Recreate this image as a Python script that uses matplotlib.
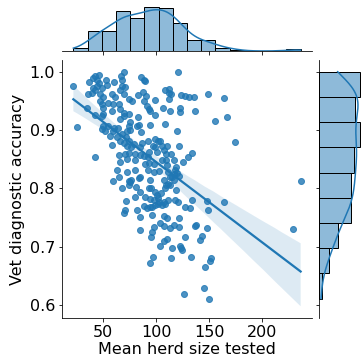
#!/usr/bin/env python3
import numpy as np
import matplotlib
matplotlib.use("Agg")
import matplotlib.pyplot as plt
import seaborn as sns

# Tamaño medio del rebaño testado (x) y precisión diagnóstica del veterinario (y)
herd_size = [
    70.1, 120.1, 46.2, 42.5, 40.9, 44.7, 52.5, 60.4, 67.0, 67.6, 85.5, 89.6, 88.1,
    36.8, 46.5, 53.5, 44.0, 48.7, 40.9, 67.6, 70.8, 66.0, 22.0, 36.2, 39.3, 42.5,
    47.2, 50.3, 58.2, 61.3, 69.2, 87.1, 83.3, 90.6, 108.5, 111.6, 113.8, 111.6,
    123.6, 126.7, 130.5, 135.2, 149.1, 163.5, 98.4, 111.6, 47.2, 48.7, 55.0, 65.4,
    59.7, 73.9, 77.0, 88.1, 91.2, 92.8, 94.3, 35.2, 50.3, 66.0, 69.2, 73.9, 106.3,
    113.2, 122.6, 122.0, 136.5, 42.5, 58.2, 49.7, 48.7, 69.2, 82.4, 98.4, 25.2,
    155.0, 166.4, 66.0, 75.5, 74.8, 81.8, 83.7, 94.3, 108.5, 50.3, 55.0, 60.7,
    63.8, 48.7, 51.9, 59.1, 72.3, 75.5, 67.6, 85.9, 119.5, 56.6, 62.9, 71.7, 66.0,
    73.9, 78.6, 86.5, 92.1, 98.4, 101.3, 103.1, 58.2, 69.2, 72.3, 76.1, 84.9, 96.9,
    99.1, 105.4, 110.1, 121.1, 173.9, 64.5, 70.8, 73.9, 80.2, 84.9, 92.8, 100.6,
    107.6, 109.4, 114.2, 133.7, 129.6, 125.2, 42.5, 66.0, 72.3, 80.2, 88.7, 91.8,
    97.5, 105.4, 109.4, 110.1, 116.4, 118.9, 62.9, 72.3, 80.2, 91.8, 89.6, 92.8,
    97.5, 102.2, 110.7, 116.4, 119.5, 117.9, 121.1, 59.7, 64.5, 74.8, 76.1, 83.7,
    84.9, 94.3, 106.9, 113.2, 114.8, 116.4, 111.0, 67.6, 73.9, 75.5, 80.5, 84.9,
    92.8, 95.0, 98.4, 100.6, 104.4, 108.5, 109.4, 113.2, 118.9, 71.7, 80.2, 89.6,
    94.3, 97.5, 101.3, 102.8, 107.6, 110.7, 117.9, 120.1, 133.7, 147.8, 70.8, 81.8,
    88.1, 91.2, 93.7, 95.9, 99.1, 101.6, 105.0, 107.9, 127.4, 131.5, 148.8, 163.5,
    69.2, 84.3, 95.9, 106.9, 110.1, 121.1, 97.5, 103.8, 106.9, 112.6, 116.4, 121.1,
    136.8, 137.7, 147.8, 84.6, 95.9, 95.0, 110.1, 107.6, 127.4, 143.1, 141.5, 228.9,
    103.8, 114.8, 122.0, 124.2, 123.3, 132.4, 151.6, 150.6, 96.9, 94.3, 114.2,
    146.2, 126.1, 145.3, 150.0, 235.9,
]
accuracy = [
    1.000, 1.000, 0.995, 0.992, 0.990, 0.986, 0.986, 0.982, 0.992, 0.985, 0.991,
    0.984, 0.985, 0.982, 0.981, 0.978, 0.975, 0.972, 0.972, 0.975, 0.973, 0.969,
    0.975, 0.962, 0.964, 0.969, 0.962, 0.956, 0.961, 0.956, 0.962, 0.966, 0.960,
    0.958, 0.969, 0.971, 0.962, 0.964, 0.960, 0.958, 0.957, 0.957, 0.961, 0.955,
    0.951, 0.953, 0.950, 0.944, 0.947, 0.944, 0.945, 0.953, 0.950, 0.950, 0.941,
    0.936, 0.933, 0.938, 0.938, 0.936, 0.930, 0.928, 0.937, 0.932, 0.937, 0.931,
    0.932, 0.926, 0.932, 0.928, 0.924, 0.924, 0.923, 0.925, 0.905, 0.916, 0.923,
    0.919, 0.913, 0.907, 0.907, 0.909, 0.908, 0.910, 0.907, 0.907, 0.903, 0.904,
    0.902, 0.899, 0.898, 0.899, 0.900, 0.894, 0.896, 0.898, 0.890, 0.888, 0.888,
    0.881, 0.881, 0.876, 0.877, 0.882, 0.884, 0.882, 0.881, 0.875, 0.877, 0.872,
    0.871, 0.871, 0.872, 0.871, 0.872, 0.872, 0.872, 0.879, 0.858, 0.859, 0.860,
    0.859, 0.858, 0.862, 0.862, 0.866, 0.859, 0.859, 0.861, 0.853, 0.845, 0.853,
    0.845, 0.851, 0.849, 0.855, 0.854, 0.842, 0.849, 0.848, 0.840, 0.848, 0.837,
    0.831, 0.828, 0.831, 0.831, 0.842, 0.843, 0.828, 0.829, 0.828, 0.824, 0.827,
    0.831, 0.821, 0.812, 0.820, 0.813, 0.814, 0.817, 0.820, 0.815, 0.814, 0.820,
    0.819, 0.815, 0.807, 0.800, 0.806, 0.811, 0.802, 0.794, 0.801, 0.801, 0.793,
    0.789, 0.792, 0.801, 0.806, 0.806, 0.797, 0.779, 0.786, 0.786, 0.781, 0.780,
    0.783, 0.777, 0.776, 0.780, 0.780, 0.777, 0.780, 0.779, 0.763, 0.763, 0.769,
    0.766, 0.768, 0.768, 0.772, 0.773, 0.772, 0.773, 0.768, 0.767, 0.763, 0.776,
    0.757, 0.751, 0.754, 0.752, 0.750, 0.750, 0.734, 0.741, 0.735, 0.732, 0.738,
    0.734, 0.736, 0.738, 0.732, 0.728, 0.725, 0.717, 0.714, 0.710, 0.716, 0.719,
    0.712, 0.731, 0.701, 0.697, 0.702, 0.694, 0.697, 0.683, 0.681, 0.675, 0.683,
    0.672, 0.681, 0.666, 0.619, 0.629, 0.611, 0.812,
]

x = np.array(herd_size)
y = np.array(accuracy)

W, H = 361, 356
DPI = 72
fig = plt.figure(figsize=(W / DPI, H / DPI), dpi=DPI)

# Ejes: principal + marginales (estilo jointplot, recortado a la derecha)
ax = fig.add_axes([62 / W, 38 / H, 250 / W, 258 / H])
ax_top = fig.add_axes([62 / W, 305 / H, 250 / W, 46 / H], sharex=ax)
ax_right = fig.add_axes([319 / W, 38 / H, 43 / W, 258 / H], sharey=ax)

sns.regplot(x=x, y=y, ax=ax, seed=0)
sns.histplot(x=x, kde=True, ax=ax_top, color="C0")
sns.histplot(y=y, kde=True, ax=ax_right, color="C0")

ax.set_xlabel("Mean herd size tested", fontsize=16, labelpad=2)
ax.set_ylabel("Vet diagnostic accuracy", fontsize=16)
ax.tick_params(labelsize=16)
ax.set_xticks([50, 100, 150, 200])
ax.set_yticks([0.6, 0.7, 0.8, 0.9, 1.0])
sns.despine(ax=ax)

# Marginal superior
sns.despine(ax=ax_top, left=True)
ax_top.set_ylabel("")
ax_top.set_xlabel("")
ax_top.tick_params(axis="x", labelbottom=False)
ax_top.tick_params(axis="y", left=False, labelleft=False)

# Marginal derecho
sns.despine(ax=ax_right, bottom=True)
ax_right.set_xlabel("")
ax_right.set_ylabel("")
ax_right.tick_params(axis="y", labelleft=False)
ax_right.tick_params(axis="x", bottom=False, labelbottom=False)

fig.savefig("out.png", dpi=DPI)
